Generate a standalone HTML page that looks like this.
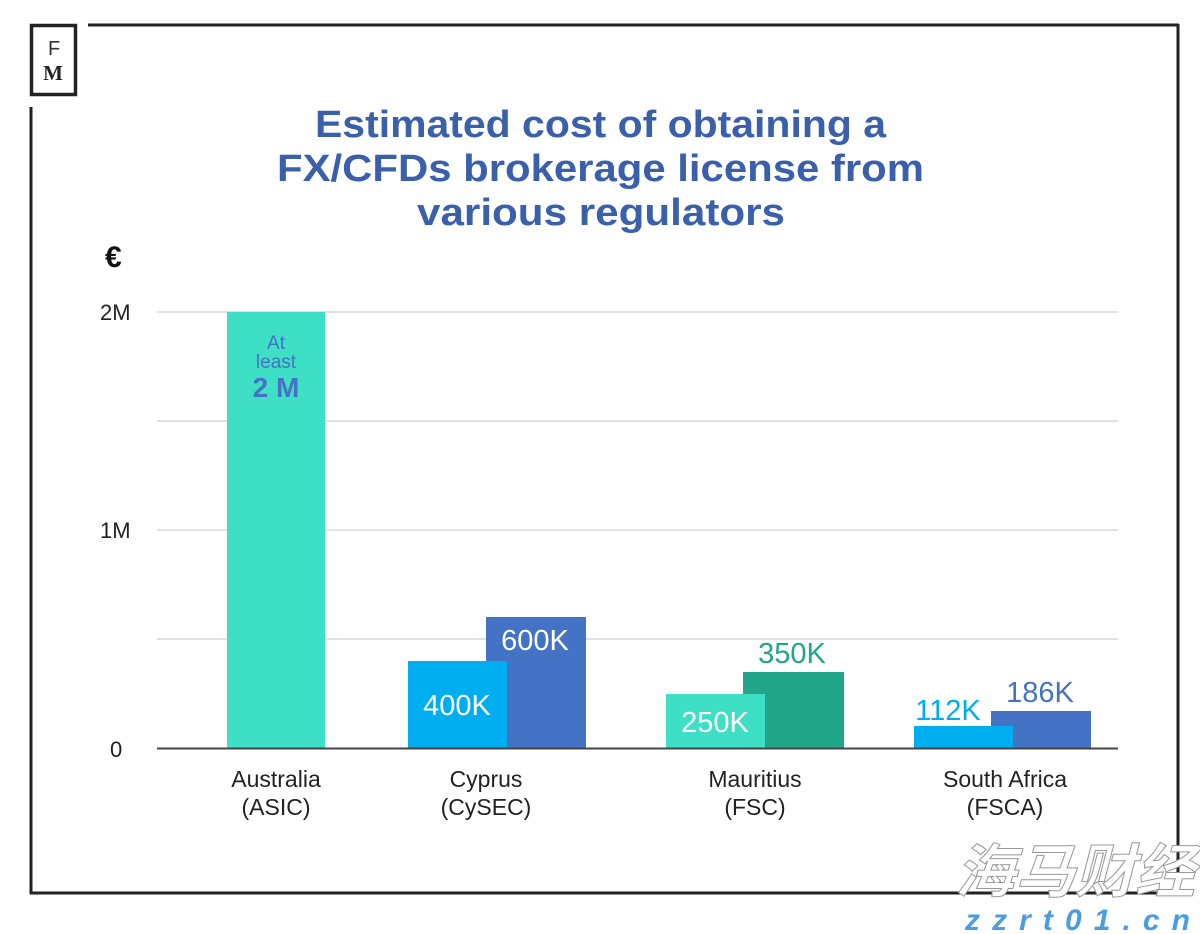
<!DOCTYPE html>
<html><head><meta charset="utf-8"><style>
html,body{margin:0;padding:0;background:#fff;}
svg{display:block;}
</style></head><body>
<svg width="1200" height="934" viewBox="0 0 1200 934" xmlns="http://www.w3.org/2000/svg" font-family="Liberation Sans, sans-serif">
<rect width="1200" height="934" fill="#fff"/>
<g stroke="#222" stroke-width="3" fill="none">
<line x1="88" y1="25" x2="1179" y2="25"/>
<line x1="1178" y1="24" x2="1178" y2="894"/>
<line x1="30" y1="893" x2="1179" y2="893"/>
<line x1="31" y1="107" x2="31" y2="894"/>
<rect x="31.5" y="25.5" width="44" height="69" stroke-width="3.5"/>
</g>
<text x="48" y="55" font-size="20" fill="#333">F</text>
<text x="53" y="80" font-size="21" font-weight="bold" font-family="Liberation Serif, serif" fill="#222" text-anchor="middle">M</text>
<g fill="#3a5fab" font-weight="bold" font-size="38">
<text x="315" y="137" textLength="571" lengthAdjust="spacingAndGlyphs">Estimated cost of obtaining a</text>
<text x="277" y="181" textLength="647" lengthAdjust="spacingAndGlyphs">FX/CFDs brokerage license from</text>
<text x="417" y="225" textLength="368" lengthAdjust="spacingAndGlyphs">various regulators</text>
</g>
<text x="105" y="267" font-size="30" font-weight="bold" fill="#111">€</text>
<g stroke="#cfcfcf" stroke-width="1.3">
<line x1="157" y1="312" x2="1118" y2="312"/>
<line x1="157" y1="421" x2="1118" y2="421"/>
<line x1="157" y1="530" x2="1118" y2="530"/>
<line x1="157" y1="639" x2="1118" y2="639"/>
</g>
<g font-size="22" fill="#222">
<text x="100" y="320">2M</text>
<text x="100" y="538">1M</text>
<text x="110" y="757">0</text>
</g>
<rect x="227" y="312" width="98" height="436" fill="#3ddfc5"/>
<text x="276" y="349" font-size="19" fill="#4472c4" text-anchor="middle">At</text>
<text x="276" y="368" font-size="19" fill="#4472c4" text-anchor="middle">least</text>
<text x="276" y="397" font-size="28" font-weight="bold" fill="#4472c4" text-anchor="middle">2 M</text>

<rect x="486" y="617" width="100" height="131" fill="#4472c4"/>
<rect x="408" y="661" width="99" height="87" fill="#00aeef"/>
<text x="535" y="650" font-size="29" fill="#fff" text-anchor="middle">600K</text>
<text x="457" y="715" font-size="29" fill="#fff" text-anchor="middle">400K</text>

<rect x="743" y="672" width="101" height="76" fill="#21a68a"/>
<rect x="666" y="694" width="99" height="54" fill="#3ddfc5"/>
<text x="792" y="663" font-size="29" fill="#21a68a" text-anchor="middle">350K</text>
<text x="715" y="732" font-size="29" fill="#fff" text-anchor="middle">250K</text>

<rect x="991" y="711" width="100" height="37" fill="#4472c4"/>
<rect x="914" y="726" width="99" height="22" fill="#00aeef"/>
<text x="1040" y="702" font-size="29" fill="#4472c4" text-anchor="middle">186K</text>
<text x="948" y="720" font-size="29" fill="#00aeef" text-anchor="middle">112K</text>

<line x1="157" y1="748.5" x2="1118" y2="748.5" stroke="#444" stroke-width="2"/>
<g font-size="23" fill="#222" text-anchor="middle">
<text x="276" y="787">Australia</text><text x="276" y="815">(ASIC)</text>
<text x="486" y="787">Cyprus</text><text x="486" y="815">(CySEC)</text>
<text x="755" y="787">Mauritius</text><text x="755" y="815">(FSC)</text>
<text x="1005" y="787">South Africa</text><text x="1005" y="815">(FSCA)</text>
</g>
<text x="955" y="892" font-size="58" font-weight="bold" font-style="italic" fill="#fff" stroke="#999" stroke-width="1" font-family="Liberation Sans, Noto Sans CJK SC, sans-serif" textLength="240" lengthAdjust="spacingAndGlyphs">海马财经</text>
<text x="965" y="930" font-size="30" font-weight="bold" font-style="italic" fill="#4a9de0" textLength="225" lengthAdjust="spacing">zzrt01.cn</text>
</svg>
</body></html>
